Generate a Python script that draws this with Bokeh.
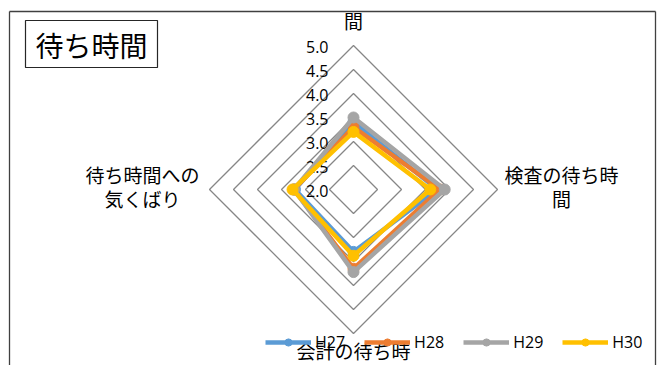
from bokeh.plotting import figure
from bokeh.models import Range1d, Legend, LegendItem
from bokeh.core.properties import value
from bokeh.embed import file_html
from bokeh.resources import INLINE

# ---- data ----
axes_labels = ["間", "検査の待ち時\n間", "会計の待ち時", "待ち時間への\n気くばり"]
series_names = ["H27", "H28", "H29", "H30"]
h27 = [3.4, 3.75, 3.3, 3.22]
h28 = [3.3, 3.8, 3.65, 3.24]
h29 = [3.5, 3.9, 3.72, 3.24]
h30 = [3.2, 3.6, 3.38, 3.27]
ticks = [2.0, 2.5, 3.0, 3.5, 4.0, 4.5, 5.0]
colors = ["#5B9BD5", "#ED7D31", "#A5A5A5", "#FFC000"]
title = "待ち時間"

RMIN = 2.0
W, H = 667, 365
S = 48.0          # pixels per unit
CX, CY = 353, 189  # canvas pixel of radar centre


def px(x):
    return (x - CX) / S


def py(y):
    return (CY - y) / S


p = figure(width=W, height=H, output_backend="svg", toolbar_location=None,
           x_range=Range1d(-CX / S, (W - CX) / S), y_range=Range1d(-(H - CY) / S, CY / S),
           x_axis_type=None, y_axis_type=None, min_border=0,
           min_border_left=0, min_border_right=0, min_border_top=0, min_border_bottom=0)
p.grid.visible = False
p.outline_line_color = None
p.background_fill_color = "white"

# chart border
p.multi_line(xs=[[px(9), px(9)], [px(9), px(655)], [px(655), px(655)]],
             ys=[[py(400), py(11)], [py(11), py(11)], [py(11), py(400)]],
             line_color="#404040", line_width=1.3)

# title box
p.quad(left=px(25), right=px(157), top=py(20), bottom=py(67),
       fill_color="white", line_color="#262626", line_width=1.2)
p.text(x=[px(91)], y=[py(44)], text=[title], text_font=value("Noto Sans CJK JP"),
       text_font_size="28px", text_align="center", text_baseline="middle", text_color="#000000")

# rings
dirs = [(0, 1), (1, 0), (0, -1), (-1, 0)]
ring_xs, ring_ys = [], []
for t in ticks[1:]:
    r = t - RMIN
    ring_xs.append([dx * r for dx, dy in dirs] + [0])
    ring_ys.append([dy * r for dx, dy in dirs] + [r])
p.multi_line(xs=ring_xs, ys=ring_ys, line_color="#868686", line_width=1.3)

# tick labels
p.text(x=[px(328)] * len(ticks), y=[t - RMIN - 0.04 for t in ticks], text=[f"{t:.1f}" for t in ticks],
       text_font=value("Open Sans"), text_font_size="16px", text_align="right",
       text_baseline="middle", text_color="#000000")

# axis labels
lab_pos = [(353, 20), (561, 186), (353, 350), (142, 186)]
for lab, (lx, ly) in zip(axes_labels, lab_pos):
    p.text(x=[px(lx)], y=[py(ly)], text=[lab], text_font=value("Noto Sans CJK JP"),
           text_font_size="19px", text_align="center", text_baseline="middle",
           text_line_height=0.92, text_color="#000000")

# series
items = []
for name, vals, col in zip(series_names, [h27, h28, h29, h30], colors):
    xs = [dx * (v - RMIN) for (dx, dy), v in zip(dirs, vals)]
    ys = [dy * (v - RMIN) for (dx, dy), v in zip(dirs, vals)]
    ln = p.line(xs + [xs[0]], ys + [ys[0]], line_color=col, line_width=4.5, line_join="round")
    sc = p.scatter(xs, ys, size=11, fill_color=col, line_color=col)
    items.append(LegendItem(label=name, renderers=[ln, sc]))

legend = Legend(items=items, orientation="horizontal", location=(265, 12),
                glyph_width=46, glyph_height=18, label_standoff=4, spacing=19,
                padding=0, margin=0, border_line_color=None, background_fill_alpha=0,
                label_text_font="Open Sans", label_text_font_size="16px",
                label_text_color="#000000")
p.add_layout(legend, "center")

open("out.html", "w").write(file_html(p, INLINE))
